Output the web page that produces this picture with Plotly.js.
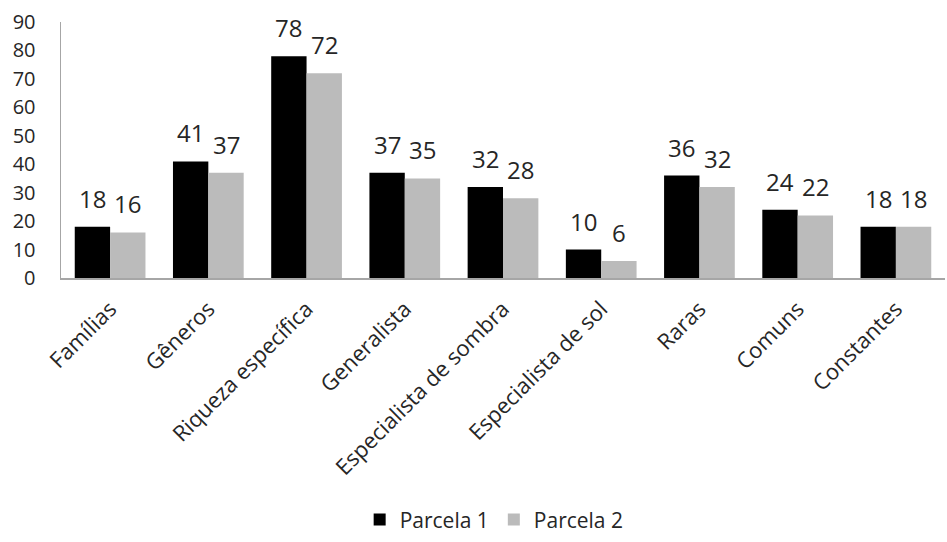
<!DOCTYPE html>
<html><head><meta charset="utf-8">
<script src="https://cdn.plot.ly/plotly-3.0.1.min.js"></script>
<style>html,body{margin:0;padding:0;background:#fff}#c{width:947px;height:542px}</style>
</head><body><div id="c"></div>
<script>
const categories = ["Famílias","Gêneros","Riqueza específica","Generalista","Especialista de sombra","Especialista de sol","Raras","Comuns","Constantes"];
const parcela1 = [18,41,78,37,32,10,36,24,18];
const parcela2 = [16,37,72,35,28,6,32,22,18];
const yTicks = [0,10,20,30,40,50,60,70,80,90];

const fontFam = "Open Sans, Noto Sans, sans-serif";
const txtColor = '#262626';
const traces = [
  {type:'bar', name:'Parcela 1', x:categories, y:parcela1, marker:{color:'#000000'}},
  {type:'bar', name:'Parcela 2', x:categories, y:parcela2, marker:{color:'#BBBBBB'}}
];
// data labels built from the arrays (half bar width offset in px)
const halfBar = 17.7;
const annotations = [];
categories.forEach((c, i) => {
  annotations.push({x:c, y:parcela1[i], xref:'x', yref:'y', text:String(parcela1[i]), showarrow:false,
    xshift:-halfBar, yshift:10, yanchor:'bottom', font:{family:fontFam,size:24,color:txtColor}});
  annotations.push({x:c, y:parcela2[i], xref:'x', yref:'y', text:String(parcela2[i]), showarrow:false,
    xshift:halfBar, yshift:10, yanchor:'bottom', font:{family:fontFam,size:24,color:txtColor}});
});
const layout = {
  width:947, height:542,
  margin:{l:61, r:2, t:22, b:264},
  paper_bgcolor:'#fff', plot_bgcolor:'#fff',
  font:{family:fontFam, size:20, color:txtColor},
  barmode:'group', bargap:0.28, bargroupgap:0,
  annotations: annotations,
  xaxis:{tickangle:-45, showline:true, linecolor:'#A6A6A6', linewidth:1.5, ticks:'', showgrid:false,
    ticklabelstandoff:8,
    tickfont:{family:fontFam,size:22,color:txtColor}},
  yaxis:{range:[0,90], tickvals:yTicks, ticktext:yTicks.map(String), showline:true, linecolor:'#A6A6A6', linewidth:1.5,
    showgrid:false, zeroline:false, ticks:'', ticklen:0, ticklabelstandoff:20,
    tickfont:{family:fontFam,size:20,color:txtColor}},
  showlegend:true,
  legend:{orientation:'h', x:0.49, xanchor:'center', y:-0.945, yanchor:'middle',
    itemwidth:30, tracegroupgap:0, font:{family:fontFam,size:21,color:txtColor}}
};
Plotly.newPlot('c', traces, layout, {displayModeBar:false, staticPlot:true});
</script></body></html>
